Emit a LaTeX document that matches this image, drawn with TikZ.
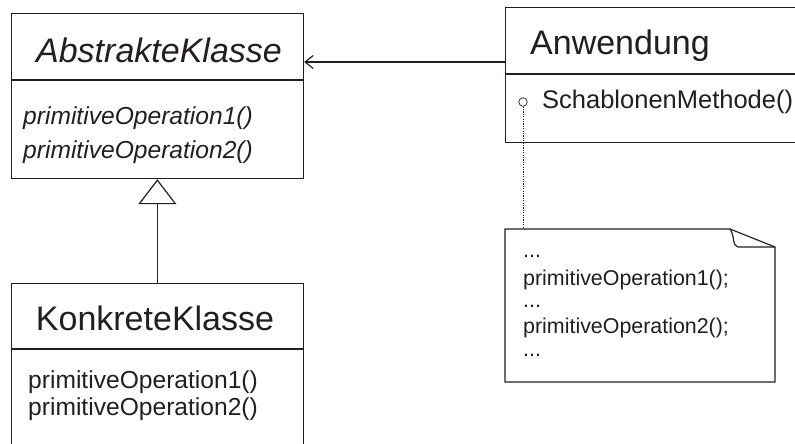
\documentclass[tikz,border=0pt]{standalone}
\usepackage{fontspec}
\setmainfont{Liberation Sans}
\usetikzlibrary{arrows.meta}
\definecolor{ink}{HTML}{231F20}
\tikzset{
  umlbox/.style={draw=ink, line width=1.2pt, rectangle, inner sep=0pt, anchor=north west},
  titletext/.style={text=ink, inner sep=0pt, font=\fontsize{34}{40}\selectfont},
  optext/.style={text=ink, inner sep=0pt, anchor=base west, font=\fontsize{24.6}{30}\selectfont},
  notetext/.style={text=ink, inner sep=0pt, anchor=base west, font=\fontsize{21.4}{25}\selectfont},
  divider/.style={draw=ink, line width=1.2pt},
  assoc/.style={draw=ink, line width=1.2pt, -{Straight Barb[length=8pt,width=13pt,line width=1.2pt]}},
  generalize/.style={draw=ink, line width=1.2pt, -{Triangle[open,length=25pt,width=38pt,line width=1.2pt,fill=white]}},
  anchorline/.style={draw=ink, line width=0.6pt, dash pattern=on 1.2pt off 1.2pt}
}
\begin{document}
\begin{tikzpicture}[x=1pt,y=-1pt]
\useasboundingbox (0,0) rectangle (795,444);
\clip (0,0) rectangle (795,444);
\fill[white] (0,0) rectangle (795,444);

% abstract class
\node[umlbox, minimum width=292.5pt, minimum height=165pt] (abs) at (10.5,13) {};
\draw[divider] (abs.west |- 0,80) -- (abs.east |- 0,80);
\node[titletext, anchor=base, font=\fontsize{34}{40}\selectfont\itshape] (absname) at (159,63) {AbstrakteKlasse};
\node[optext, font=\fontsize{24.6}{30}\selectfont\itshape] (absop1) at (23,124) {primitiveOperation1()};
\node[optext, font=\fontsize{24.6}{30}\selectfont\itshape] (absop2) at (23,158) {primitiveOperation2()};

% concrete class (runs past the lower edge)
\node[umlbox, minimum width=292.5pt, minimum height=190pt] (konk) at (10.5,283) {};
\draw[divider] (konk.west |- 0,349) -- (konk.east |- 0,349);
\node[titletext, anchor=base] (konkname) at (155,330) {KonkreteKlasse};
\node[optext] (konkop1) at (28,388) {primitiveOperation1()};
\node[optext] (konkop2) at (28,415) {primitiveOperation2()};

% client class (runs past the right edge)
\node[umlbox, minimum width=320pt, minimum height=135pt] (anw) at (505,7) {};
\draw[divider] (anw.west |- 0,74) -- (anw.east |- 0,74);
\node[titletext, anchor=base west] (anwname) at (530,55) {Anwendung};
\node[optext, font=\fontsize{25.5}{30}\selectfont] (anwop) at (542,108) {SchablonenMethode()};
\node[draw=ink, line width=0.7pt, circle, minimum size=8.5pt, inner sep=0pt, fill=white] (port) at (523,102) {};

% note with folded corner
\coordinate (nTL) at (505,229);
\coordinate (nFold) at (730,229);
\coordinate (nCorner) at (775,247);
\coordinate (nBR) at (775,382);
\coordinate (nBL) at (505,382);
\draw[ink, line width=1.2pt, fill=white] (nTL) -- (nFold) -- (nCorner) -- (nBR) -- (nBL) -- cycle;
\draw[ink, line width=1.2pt, line join=round] (nFold) .. controls (735,236) and (732,246) .. (738,247) -- (nCorner);
\node[notetext] (n1) at (523,257) {...};
\node[notetext] (n2) at (523,285) {primitiveOperation1();};
\node[notetext] (n3) at (523,307) {...};
\node[notetext] (n4) at (523,333) {primitiveOperation2();};
\node[notetext] (n5) at (523,356) {...};
\coordinate (noteTop) at (523,229);

% connectors
\coordinate (assocY) at (0,62);
\draw[assoc] (anw.west |- assocY) -- (abs.east |- assocY);
\draw[generalize] (konk.north) -- (abs.south);
\draw[anchorline] (port.south) -- (noteTop);
\end{tikzpicture}
\end{document}
